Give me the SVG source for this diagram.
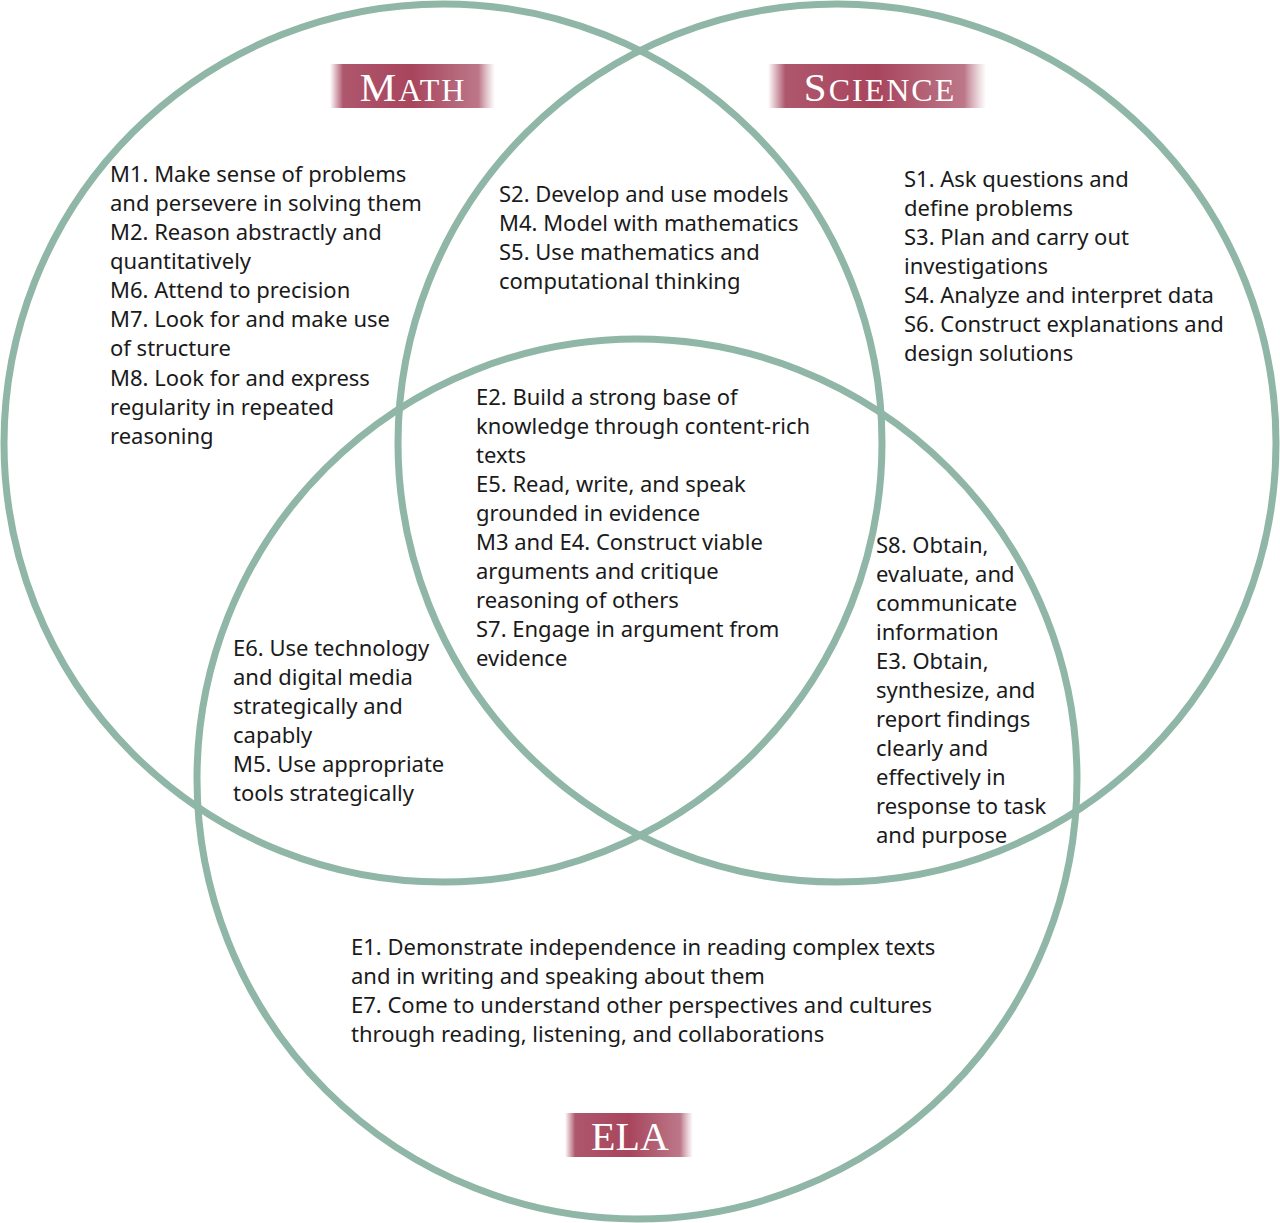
<svg xmlns="http://www.w3.org/2000/svg" width="1280" height="1223" viewBox="0 0 1280 1223">
<style>
.c{fill:none;stroke:#8fb6a7;stroke-width:7}
.t{font-family:"Noto Sans","DejaVu Sans",sans-serif;font-size:22px;fill:#1a1a1a}
.lab{font-family:"Liberation Serif",serif;fill:#fff;text-anchor:middle}
</style>
<defs>
<linearGradient id="g" x1="0" x2="1" y1="0" y2="0">
<stop offset="0" stop-color="#a5445c" stop-opacity="0"/>
<stop offset="0.08" stop-color="#a5445c" stop-opacity="0.9"/>
<stop offset="0.5" stop-color="#a8455d"/>
<stop offset="0.9" stop-color="#b5687b" stop-opacity="0.9"/>
<stop offset="1" stop-color="#c58a99" stop-opacity="0"/>
</linearGradient>
</defs>
<rect width="1280" height="1223" fill="#fff"/>
<g id="circles">
<circle id="math-circle" class="c" cx="443" cy="443" r="439"/>
<circle id="science-circle" class="c" cx="837" cy="443" r="439"/>
<circle id="ela-circle" class="c" cx="637" cy="779" r="440"/>
</g>
<g id="label-math">
<rect x="330" y="64" width="165" height="44" fill="url(#g)"/>
<text class="lab" x="413" y="101" letter-spacing="2"><tspan font-size="41">M</tspan><tspan font-size="32">ATH</tspan></text>
</g>
<g id="label-science">
<rect x="768" y="64" width="218" height="44" fill="url(#g)"/>
<text class="lab" x="880" y="101" letter-spacing="2"><tspan font-size="41">S</tspan><tspan font-size="32">CIENCE</tspan></text>
</g>
<g id="label-ela">
<rect x="565" y="1113" width="128" height="44" fill="url(#g)"/>
<text class="lab" x="630" y="1150" font-size="40">ELA</text>
</g>
<g id="math-only">
<text class="t" x="110" y="182">M1. Make sense of problems</text>
<text class="t" x="110" y="211">and persevere in solving them</text>
<text class="t" x="110" y="240">M2. Reason abstractly and</text>
<text class="t" x="110" y="269">quantitatively</text>
<text class="t" x="110" y="298">M6. Attend to precision</text>
<text class="t" x="110" y="327">M7. Look for and make use</text>
<text class="t" x="110" y="356">of structure</text>
<text class="t" x="110" y="386">M8. Look for and express</text>
<text class="t" x="110" y="415">regularity in repeated</text>
<text class="t" x="110" y="444">reasoning</text>
</g>
<g id="math-science">
<text class="t" x="499" y="202">S2. Develop and use models</text>
<text class="t" x="499" y="231">M4. Model with mathematics</text>
<text class="t" x="499" y="260">S5. Use mathematics and</text>
<text class="t" x="499" y="289">computational thinking</text>
</g>
<g id="science-only">
<text class="t" x="904" y="187">S1. Ask questions and</text>
<text class="t" x="904" y="216">define problems</text>
<text class="t" x="904" y="245">S3. Plan and carry out</text>
<text class="t" x="904" y="274">investigations</text>
<text class="t" x="904" y="303">S4. Analyze and interpret data</text>
<text class="t" x="904" y="332">S6. Construct explanations and</text>
<text class="t" x="904" y="361">design solutions</text>
</g>
<g id="all-three">
<text class="t" x="476" y="405">E2. Build a strong base of</text>
<text class="t" x="476" y="434">knowledge through content-rich</text>
<text class="t" x="476" y="463">texts</text>
<text class="t" x="476" y="492">E5. Read, write, and speak</text>
<text class="t" x="476" y="521">grounded in evidence</text>
<text class="t" x="476" y="550">M3 and E4. Construct viable</text>
<text class="t" x="476" y="579">arguments and critique</text>
<text class="t" x="476" y="608">reasoning of others</text>
<text class="t" x="476" y="637">S7. Engage in argument from</text>
<text class="t" x="476" y="666">evidence</text>
</g>
<g id="math-ela">
<text class="t" x="233" y="656">E6. Use technology</text>
<text class="t" x="233" y="685">and digital media</text>
<text class="t" x="233" y="714">strategically and</text>
<text class="t" x="233" y="743">capably</text>
<text class="t" x="233" y="772">M5. Use appropriate</text>
<text class="t" x="233" y="801">tools strategically</text>
</g>
<g id="science-ela">
<text class="t" x="876" y="553">S8. Obtain,</text>
<text class="t" x="876" y="582">evaluate, and</text>
<text class="t" x="876" y="611">communicate</text>
<text class="t" x="876" y="640">information</text>
<text class="t" x="876" y="669">E3. Obtain,</text>
<text class="t" x="876" y="698">synthesize, and</text>
<text class="t" x="876" y="727">report findings</text>
<text class="t" x="876" y="756">clearly and</text>
<text class="t" x="876" y="785">effectively in</text>
<text class="t" x="876" y="814">response to task</text>
<text class="t" x="876" y="843">and purpose</text>
</g>
<g id="ela-only">
<text class="t" x="351" y="955">E1. Demonstrate independence in reading complex texts</text>
<text class="t" x="351" y="984">and in writing and speaking about them</text>
<text class="t" x="351" y="1013">E7. Come to understand other perspectives and cultures</text>
<text class="t" x="351" y="1042">through reading, listening, and collaborations</text>
</g>
</svg>
